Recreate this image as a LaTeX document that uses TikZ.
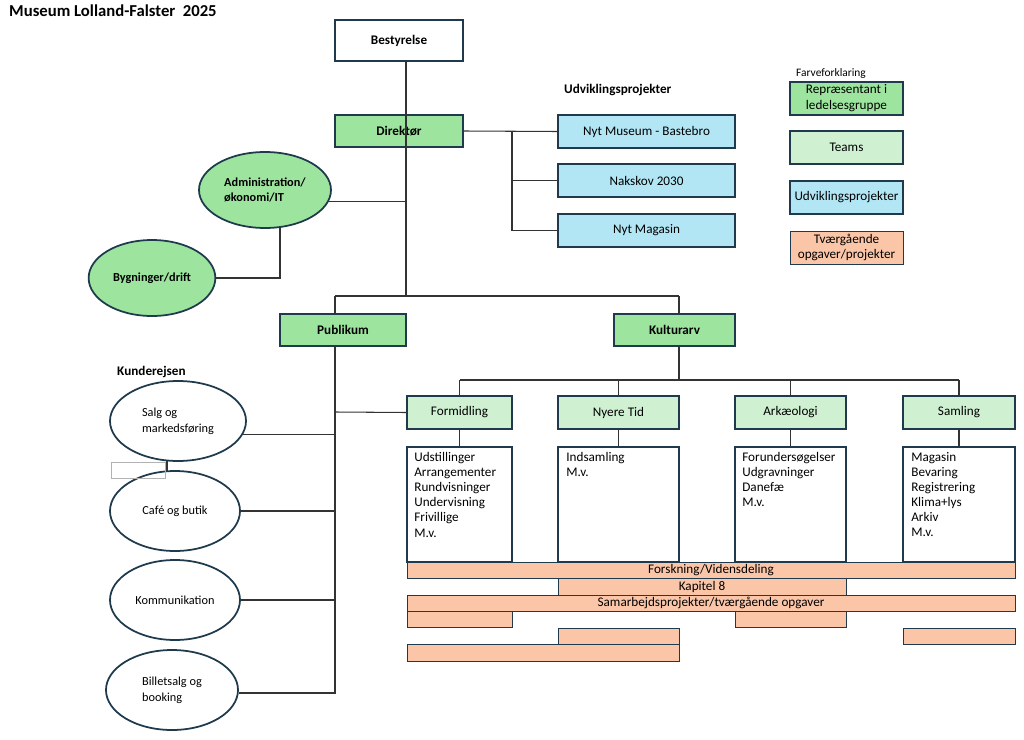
\documentclass[tikz,border=0pt]{standalone}
\usepackage{fontspec}
\setmainfont{Carlito}
\usetikzlibrary{shapes.geometric}
\definecolor{ledgreen}{HTML}{9DE59E}
\definecolor{teamgreen}{HTML}{CFF1D2}
\definecolor{projblue}{HTML}{B3E6F5}
\definecolor{crossorange}{HTML}{FBC6A8}
\definecolor{edge}{HTML}{1E3A4C}
\tikzset{
  box/.style={draw=edge, line width=0.8pt, inner sep=1pt, align=center, font=\fontsize{7.5}{9}\selectfont},
  ledbox/.style={box, fill=ledgreen},
  teambox/.style={box, fill=teamgreen},
  projbox/.style={box, fill=projblue},
  crossbox/.style={box, fill=crossorange, line width=0.5pt, inner sep=0pt},
  oval/.style={ellipse, draw=edge, line width=1pt, align=left, font=\fontsize{7}{9}\selectfont},
  link/.style={draw=black!80, line width=0.6pt},
  listtext/.style={anchor=north west, align=left, inner sep=0pt, font=\fontsize{7.5}{8.6}\selectfont}
}
% box by corners: name, x1, y1, x2, y2, style, text
\newcommand\bx[7]{\node[#6, minimum width={(#4-#2)*0.02cm}, minimum height={(#5-#3)*0.02cm}] (#1) at ({(#2+#4)/2},{(#3+#5)/2}) {#7};}
\begin{document}
\begin{tikzpicture}[x=0.02cm, y=-0.02cm]
    \useasboundingbox (0,0) rectangle (1024,740);
    % title
    \node[anchor=west, font=\bfseries\fontsize{9.5}{11}\selectfont] (title) at (3,11) {Museum Lolland-Falster\ \ 2025};
    % top of the tree
    \bx{board}{335}{20}{463}{61}{box}{\textbf{Bestyrelse}}
    \bx{dir}{335}{115}{463}{147}{ledbox}{\textbf{Direktør}}
    \coordinate (trunk) at (406,61);
    \coordinate (split) at (406,296);
    \draw[link] (trunk) -- (split);
    % development projects
    \node[anchor=west, font=\bfseries\fontsize{7.5}{9}\selectfont] (devlabel) at (558,90) {Udviklingsprojekter};
    \bx{newmus}{558}{115}{735}{148}{projbox}{Nyt Museum - Bastebro}
    \bx{nakskov}{558}{164}{735}{197}{projbox}{Nakskov 2030}
    \bx{newmag}{558}{214}{735}{247}{projbox}{Nyt Magasin}
    \coordinate (pj) at (512,131);
    \draw[link] (dir.east) -- (newmus.west);
    \draw[link] (pj) |- (newmag.west);
    \draw[link] (pj |- nakskov.west) -- (nakskov.west);
    % staff functions
    \node[oval, fill=ledgreen, minimum width=124*0.02cm, minimum height=76*0.02cm] (admin) at (265,190) {\textbf{Administration/}\\\textbf{økonomi/IT}};
    \node[oval, fill=ledgreen, minimum width=126*0.02cm, minimum height=76*0.02cm] (build) at (152,278) {\textbf{Bygninger/drift}};
    \draw[link] (admin.-10) -- (admin.-10 -| split);
    \draw[link] (280,227) |- (build.east);
    % two main departments
    \bx{pub}{280}{314}{406}{346}{ledbox}{\textbf{Publikum}}
    \bx{kult}{614}{314}{735}{346}{ledbox}{\textbf{Kulturarv}}
    \draw[link] (335,296) -- (679,296);
    \draw[link] (335,296) -- (335,314);
    \draw[link] (679,296) -- (679,314);
    % customer journey
    \node[anchor=west, font=\bfseries\fontsize{7.5}{9}\selectfont] (journey) at (111,372) {Kunderejsen};
    \node[oval, minimum width=136*0.02cm, minimum height=80*0.02cm] (sales) at (178,421) {Salg og\\markedsføring};
    \node[oval, minimum width=130*0.02cm, minimum height=80*0.02cm] (cafe) at (175,511) {Café og butik};
    \node[oval, minimum width=130*0.02cm, minimum height=80*0.02cm] (comm) at (175,600) {Kommunikation};
    \node[oval, minimum width=132*0.02cm, minimum height=80*0.02cm] (ticket) at (172,690) {Billetsalg og\\booking};
    \draw[black!30, line width=0.5pt] (111,462) rectangle (165,478);
    \draw[link] (167,461) -- (167,471);
    \coordinate (pubend) at (335,693);
    \draw[link] (335,346) -- (pubend) -- (ticket.east |- pubend);
    \draw[link] (sales.-12) -- (sales.-12 -| pubend);
    \draw[link] (cafe.east) -- (cafe.east -| pubend);
    \draw[link] (comm.east) -- (comm.east -| pubend);
    % teams
    \bx{form}{407}{396}{512}{429}{teambox}{Formidling}
    \bx{nyere}{558}{396}{679}{429}{teambox}{Nyere Tid}
    \bx{ark}{735}{396}{846}{429}{teambox}{Arkæologi}
    \bx{saml}{903}{396}{1015}{429}{teambox}{Samling}
    \draw[link] (335,412) -- (form.west);
    \draw[link] (679,346) -- (679,380);
    \draw[link] (form.north |- 0,380) -- (saml.north |- 0,380);
    \foreach \t in {form,nyere,ark,saml}
        \draw[link] (\t.north |- 0,380) -- (\t.north);
    % task lists
    \bx{formlist}{407}{447}{512}{562}{box}{}
    \bx{nyerelist}{558}{447}{679}{562}{box}{}
    \bx{arklist}{735}{447}{846}{562}{box}{}
    \bx{samllist}{903}{447}{1015}{562}{box}{}
    \node[listtext] (formtxt) at (414,452) {Udstillinger\\Arrangementer\\Rundvisninger\\Undervisning\\Frivillige\\M.v.};
    \node[listtext] (nyeretxt) at (566,452) {Indsamling\\M.v.};
    \node[listtext] (arktxt) at (742,452) {Forundersøgelser\\Udgravninger\\Danefæ\\M.v.};
    \node[listtext] (samltxt) at (911,452) {Magasin\\Bevaring\\Registrering\\Klima+lys\\Arkiv\\M.v.};
    \foreach \t in {form,nyere,ark,saml}
        \draw[link] (\t.south) -- (\t list.north);
    % cross-cutting bars
    \bx{research}{407}{562}{1015}{578}{crossbox}{Forskning/Vidensdeling}
    \bx{kap}{558}{578}{846}{595}{crossbox}{Kapitel 8}
    \bx{collab}{407}{595}{1015}{611}{crossbox}{Samarbejdsprojekter/tværgående opgaver}
    \bx{barA}{407}{611}{512}{627}{crossbox}{}
    \bx{barB}{735}{611}{846}{627}{crossbox}{}
    \bx{barC}{558}{628}{679}{644}{crossbox}{}
    \bx{barD}{903}{628}{1015}{644}{crossbox}{}
    \bx{barE}{407}{644}{679}{661}{crossbox}{}
    % colour legend
    \node[anchor=west, font=\fontsize{6.5}{8}\selectfont] (legtitle) at (790,74) {Farveforklaring};
    \bx{legled}{790}{82}{903}{115}{ledbox}{Repræsentant i\\ledelsesgruppe}
    \bx{legteam}{790}{131}{903}{164}{teambox}{Teams}
    \bx{legproj}{790}{181}{903}{214}{projbox}{Udviklingsprojekter}
    \bx{legcross}{790}{231}{903}{264}{crossbox}{Tværgående\\opgaver/projekter}
\end{tikzpicture}
\end{document}
